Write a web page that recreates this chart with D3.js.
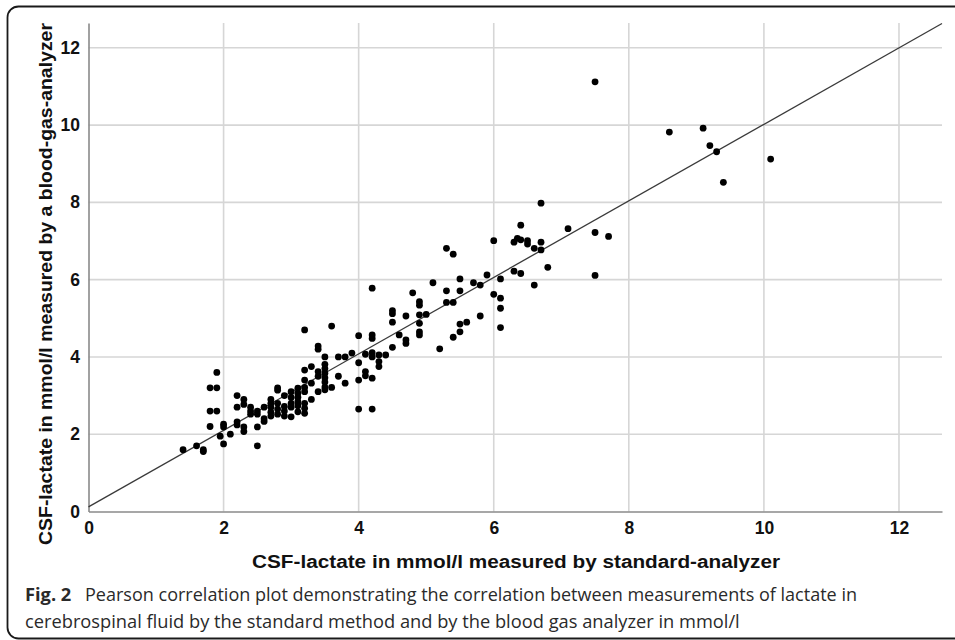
<!DOCTYPE html>
<html>
<head>
<meta charset="utf-8">
<script src="https://cdn.jsdelivr.net/npm/d3@7"></script>
<style>
  html, body { margin: 0; padding: 0; background: #fff; }
  svg { display: block; }
</style>
</head>
<body>
<svg id="chart" width="955" height="640"></svg>
<script>
// ---- data ----
const xTicks = [0, 2, 4, 6, 8, 10, 12];
const yTicks = [0, 2, 4, 6, 8, 10, 12];

// CSF-lactate by standard analyzer (mmol/l)
const standardValues = [
  1.4, 1.6, 1.7, 1.7, 1.8, 1.9, 1.9, 1.8, 1.9, 1.8,
  2.0, 2.0, 1.95, 2.0, 2.1, 2.2, 2.2, 2.2, 2.2, 2.3,
  2.3, 2.3, 2.3, 2.4, 2.4, 2.4, 2.5, 2.5, 2.5, 2.5,
  2.6, 2.6, 2.6, 2.7, 2.7, 2.7, 2.7, 2.7, 2.8, 2.8,
  2.8, 2.8, 2.8, 2.9, 2.9, 2.9, 2.9, 3.0, 3.0, 3.0,
  3.0, 3.0, 3.1, 3.1, 3.1, 3.1, 3.1, 3.1, 3.2, 3.2,
  3.2, 3.2, 3.2, 3.2, 3.2, 3.2, 3.3, 3.3, 3.3, 3.4,
  3.4, 3.4, 3.4, 3.4, 3.5, 3.5, 3.5, 3.5, 3.5, 3.5,
  3.5, 3.5, 3.6, 3.6, 3.7, 3.7, 3.8, 3.8, 3.9, 4.0,
  4.0, 4.0, 4.0, 4.1, 4.1, 4.1, 4.2, 4.2, 4.2, 4.2,
  4.2, 4.2, 4.2, 4.3, 4.3, 4.3, 4.4, 4.5, 4.5, 4.5,
  4.5, 4.6, 4.7, 4.7, 4.7, 4.8, 4.9, 4.9, 4.9, 4.9,
  4.9, 4.9, 5.0, 5.1, 5.2, 5.3, 5.3, 5.3, 5.4, 5.4,
  5.4, 5.5, 5.5, 5.5, 5.5, 5.6, 5.7, 5.8, 5.8, 5.9,
  6.0, 6.0, 6.1, 6.1, 6.1, 6.1, 6.3, 6.35, 6.4, 6.3,
  6.4, 6.4, 6.5, 6.5, 6.6, 6.6, 6.7, 6.7, 6.7, 6.8,
  7.1, 7.5, 7.7, 7.5, 7.5, 8.6, 9.1, 9.2, 9.3, 9.4,
  10.1
];
// CSF-lactate by blood-gas-analyzer (mmol/l)
const bloodGasValues = [
  1.6, 1.7, 1.6, 1.55, 3.2, 3.2, 3.6, 2.6, 2.6, 2.2,
  2.26, 2.19, 1.95, 1.75, 2.0, 3.0, 2.7, 2.32, 2.24, 2.9,
  2.77, 2.19, 2.07, 2.7, 2.6, 2.52, 2.6, 2.52, 2.19, 1.7,
  2.7, 2.4, 2.33, 2.9, 2.8, 2.7, 2.57, 2.47, 3.2, 3.14,
  2.8, 2.65, 2.52, 3.0, 2.72, 2.6, 2.47, 3.1, 2.95, 2.8,
  2.7, 2.45, 3.19, 3.06, 2.96, 2.84, 2.74, 2.58, 4.7, 3.66,
  3.4, 3.21, 3.1, 2.8, 2.67, 2.54, 3.75, 3.32, 2.9, 4.28,
  4.2, 3.62, 3.5, 3.1, 4.0, 3.81, 3.7, 3.58, 3.46, 3.35,
  3.22, 3.15, 4.8, 3.21, 4.0, 3.5, 4.0, 3.32, 4.1, 4.55,
  3.85, 3.4, 2.65, 4.07, 3.62, 3.51, 5.78, 4.57, 4.48, 4.11,
  4.0, 3.45, 2.65, 4.05, 3.88, 3.75, 4.05, 5.2, 5.12, 4.9,
  4.25, 4.57, 5.06, 4.44, 4.35, 5.66, 5.43, 5.34, 5.09, 4.87,
  4.65, 4.57, 5.1, 5.92, 4.21, 6.81, 5.71, 5.41, 6.66, 5.41,
  4.51, 6.02, 5.71, 4.85, 4.65, 4.9, 5.92, 5.86, 5.06, 6.12,
  7.01, 5.62, 6.02, 5.52, 5.26, 4.76, 6.97, 7.07, 7.03, 6.22,
  6.16, 7.41, 7.01, 6.92, 6.81, 5.86, 7.98, 6.97, 6.77, 6.32,
  7.32, 7.22, 7.12, 6.11, 11.12, 9.82, 9.92, 9.47, 9.31, 8.52,
  9.12
];

// fitted line y = intercept + slope * x
const fitIntercept = 0.12;
const fitSlope = 0.99;

const xLabel = "CSF-lactate in mmol/l measured by standard-analyzer";
const yLabel = "CSF-lactate in mmol/l measured by a blood-gas-analyzer";
const captionBold = "Fig. 2";
const captionLine1 = "Pearson correlation plot demonstrating the correlation between measurements of lactate in";
const captionLine2 = "cerebrospinal fluid by the standard method and by the blood gas analyzer in mmol/l";

// ---- layout ----
const plotLeft = 88.5, plotRight = 942, plotTop = 23, plotBottom = 511.5;
const svg = d3.select("#chart");

// frame
svg.append("rect")
  .attr("x", 7.5).attr("y", 6.5)
  .attr("width", 1000).attr("height", 632)
  .attr("rx", 11).attr("ry", 11)
  .attr("fill", "none").attr("stroke", "#1a1a1a").attr("stroke-width", 1.8);

const x = d3.scaleLinear()
  .domain([0, (plotRight - plotLeft) / 67.54])
  .range([plotLeft, plotRight]);
const y = d3.scaleLinear()
  .domain([0, (plotBottom - plotTop) / 38.64])
  .range([plotBottom, plotTop]);

// grid
const grid = svg.append("g");
grid.selectAll("line.v").data(xTicks.filter(d => d > 0)).join("line")
  .attr("class", "v")
  .attr("x1", d => x(d)).attr("x2", d => x(d))
  .attr("y1", y.range()[0]).attr("y2", y.range()[1])
  .attr("stroke", "#d6d6d6").attr("stroke-width", 1.6);
grid.selectAll("line.h").data(yTicks.filter(d => d > 0)).join("line")
  .attr("class", "h")
  .attr("y1", d => y(d)).attr("y2", d => y(d))
  .attr("x1", x.range()[0]).attr("x2", x.range()[1])
  .attr("stroke", "#d6d6d6").attr("stroke-width", 1.6);

// axes
const tickFont = "'Liberation Sans', Arial, sans-serif";
const gx = svg.append("g")
  .attr("transform", `translate(0,${plotBottom})`)
  .call(d3.axisBottom(x).tickValues(xTicks).tickSize(0).tickSizeOuter(0).tickPadding(10));
const gy = svg.append("g")
  .attr("transform", `translate(${plotLeft},0)`)
  .call(d3.axisLeft(y).tickValues(yTicks).tickSize(0).tickSizeOuter(0).tickPadding(8.5));
[gx, gy].forEach(g => {
  g.select(".domain").attr("stroke", "#8a8a8a").attr("stroke-width", 1.6);
  g.selectAll("text")
    .attr("font-family", tickFont)
    .attr("font-weight", "bold")
    .attr("font-size", 17.5)
    .attr("fill", "#111");
});

// fit line
const xMax = x.domain()[1];
svg.append("line")
  .attr("x1", x(0)).attr("y1", y(fitIntercept))
  .attr("x2", x(xMax)).attr("y2", y(fitIntercept + fitSlope * xMax))
  .attr("stroke", "#3a3a3a").attr("stroke-width", 1.3);

// points
svg.append("g").selectAll("circle")
  .data(standardValues.map((v, i) => [v, bloodGasValues[i]]))
  .join("circle")
  .attr("cx", d => x(d[0]))
  .attr("cy", d => y(d[1]))
  .attr("r", 3.4)
  .attr("fill", "#000");

// axis titles
svg.append("text")
  .attr("x", 516).attr("y", 568)
  .attr("text-anchor", "middle")
  .attr("font-family", tickFont).attr("font-weight", "bold").attr("font-size", 18.8)
  .attr("textLength", 528).attr("lengthAdjust", "spacingAndGlyphs")
  .attr("fill", "#111")
  .text(xLabel);
svg.append("text")
  .attr("transform", "translate(52,284) rotate(-90)")
  .attr("text-anchor", "middle")
  .attr("font-family", tickFont).attr("font-weight", "bold").attr("font-size", 18.8)
  .attr("textLength", 522).attr("lengthAdjust", "spacingAndGlyphs")
  .attr("fill", "#111")
  .text(yLabel);

// caption
const capFont = "'Open Sans', 'Noto Sans', sans-serif";
const cap = svg.append("g").attr("fill", "#2a2a2a").attr("font-family", capFont);
const l2 = cap.append("text").attr("x", 25).attr("y", 628).attr("font-size", 100).text(captionLine2);
const capSize = 100 * 715 / l2.node().getComputedTextLength();
l2.attr("font-size", capSize);
cap.append("text").attr("x", 25).attr("y", 600.5)
  .attr("font-size", capSize).attr("font-weight", "bold").text(captionBold);
cap.append("text").attr("x", 85).attr("y", 600.5)
  .attr("font-size", capSize)
  .attr("textLength", 772).attr("lengthAdjust", "spacingAndGlyphs")
  .text(captionLine1);
</script>
</body>
</html>
